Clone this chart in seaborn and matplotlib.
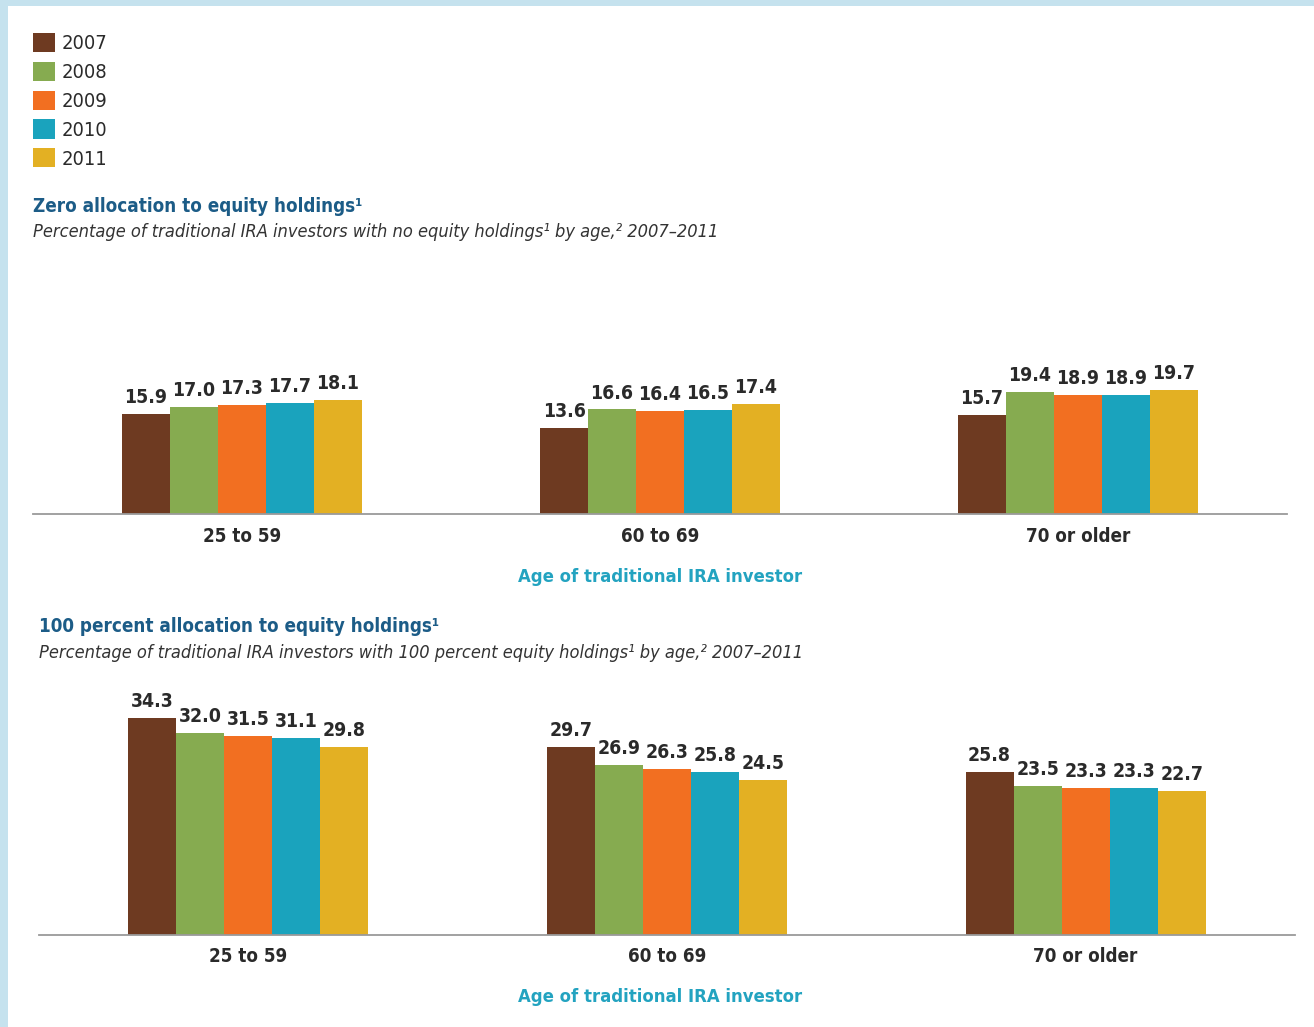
import pandas as pd
import seaborn as sns
import matplotlib.pyplot as plt
from matplotlib import font_manager
from matplotlib.patches import Rectangle

# Data
ages = ['25 to 59', '60 to 69', '70 or older']
years = ['2007', '2008', '2009', '2010', '2011']
zero_alloc = [
    [15.9, 17.0, 17.3, 17.7, 18.1],
    [13.6, 16.6, 16.4, 16.5, 17.4],
    [15.7, 19.4, 18.9, 18.9, 19.7],
]
full_alloc = [
    [34.3, 32.0, 31.5, 31.1, 29.8],
    [29.7, 26.9, 26.3, 25.8, 24.5],
    [25.8, 23.5, 23.3, 23.3, 22.7],
]
colors = ['#6e3a21', '#86ab50', '#f26f21', '#1aa3bd', '#e3b023']

title_blue = '#1c5c87'
teal = '#23a3c0'
dark = '#2a2a2a'


def to_long(values):
    rows = []
    for age, vals in zip(ages, values):
        for year, v in zip(years, vals):
            rows.append({'age': age, 'year': year, 'value': v})
    return pd.DataFrame(rows)


sns.set_style('white')
plt.rcParams['font.family'] = ['DejaVu Sans']
has_cond = any(f.name == 'DejaVu Sans' and f.stretch == 'condensed'
               for f in font_manager.fontManager.ttflist)
if has_cond:
    plt.rcParams['font.stretch'] = 'condensed'
    scale = 0.9
else:
    scale = 0.82

W, H = 1314, 1027
fig = plt.figure(figsize=(W / 100, H / 100), dpi=100)
fig.patch.set_facecolor('#c5e2ee')
fig.patches.append(Rectangle((8 / W, 0), 1, 1 - 6 / H, transform=fig.transFigure,
                             facecolor='white', edgecolor='none', zorder=-10))


def panel(rect, values, ymax, title, subtitle, tx, ty):
    ax = fig.add_axes(rect)
    ax.set_facecolor('none')
    df = to_long(values)
    sns.barplot(data=df, x='age', y='value', hue='year', palette=colors,
                width=0.574, gap=0, saturation=1, linewidth=0, ax=ax, legend=True)
    for c in ax.containers:
        ax.bar_label(c, fmt='%.1f', padding=5, fontsize=15.5 * scale,
                     fontweight='bold', color=dark)
    ax.set_xlim(-0.5, 2.5)
    ax.set_ylim(0, ymax)
    ax.set_xlabel('')
    ax.set_ylabel('')
    ax.set_yticks([])
    for s in ['top', 'left', 'right']:
        ax.spines[s].set_visible(False)
    ax.spines['bottom'].set_color('#9a9a9a')
    ax.spines['bottom'].set_linewidth(1.3)
    ax.tick_params(axis='x', length=0, pad=9, labelsize=15 * scale,
                   labelcolor=dark)
    for lbl in ax.get_xticklabels():
        lbl.set_fontweight('bold')
    fig.text(tx / W, 1 - ty / H, title, fontsize=15 * scale, fontweight='bold',
             color=title_blue, va='center', ha='left')
    fig.text(tx / W, 1 - (ty + 26) / H, subtitle, fontsize=14.5 * scale,
             style='italic', color='#333333', va='center', ha='left')
    return ax


ax1 = panel([33 / W, 1 - 514 / H, 1254 / W, 233 / H], zero_alloc, 37.0,
            'Zero allocation to equity holdings\u00b9',
            'Percentage of traditional IRA investors with no equity holdings\u00b9 by age,\u00b2 2007\u20132011',
            33, 206)
ax2 = panel([39 / W, 1 - 935 / H, 1256 / W, 253 / H], full_alloc, 40.0,
            '100 percent allocation to equity holdings\u00b9',
            'Percentage of traditional IRA investors with 100 percent equity holdings\u00b9 by age,\u00b2 2007\u20132011',
            39, 627)

fig.text(660 / W, 1 - 577 / H, 'Age of traditional IRA investor', fontsize=14.7 * scale,
         fontweight='bold', color=teal, ha='center', va='center')
fig.text(660 / W, 1 - 997 / H, 'Age of traditional IRA investor', fontsize=14.7 * scale,
         fontweight='bold', color=teal, ha='center', va='center')

handles, labels = ax1.get_legend_handles_labels()
ax1.get_legend().remove()
ax2.get_legend().remove()
fig.legend(handles, labels, loc='upper left', bbox_to_anchor=(15 / W, 1 - 15 / H),
           frameon=False, fontsize=16 * scale, handlelength=1.1, handleheight=1.1,
           handletextpad=0.35, labelspacing=0.42, labelcolor=dark)

fig.savefig('out.png', dpi=100)
